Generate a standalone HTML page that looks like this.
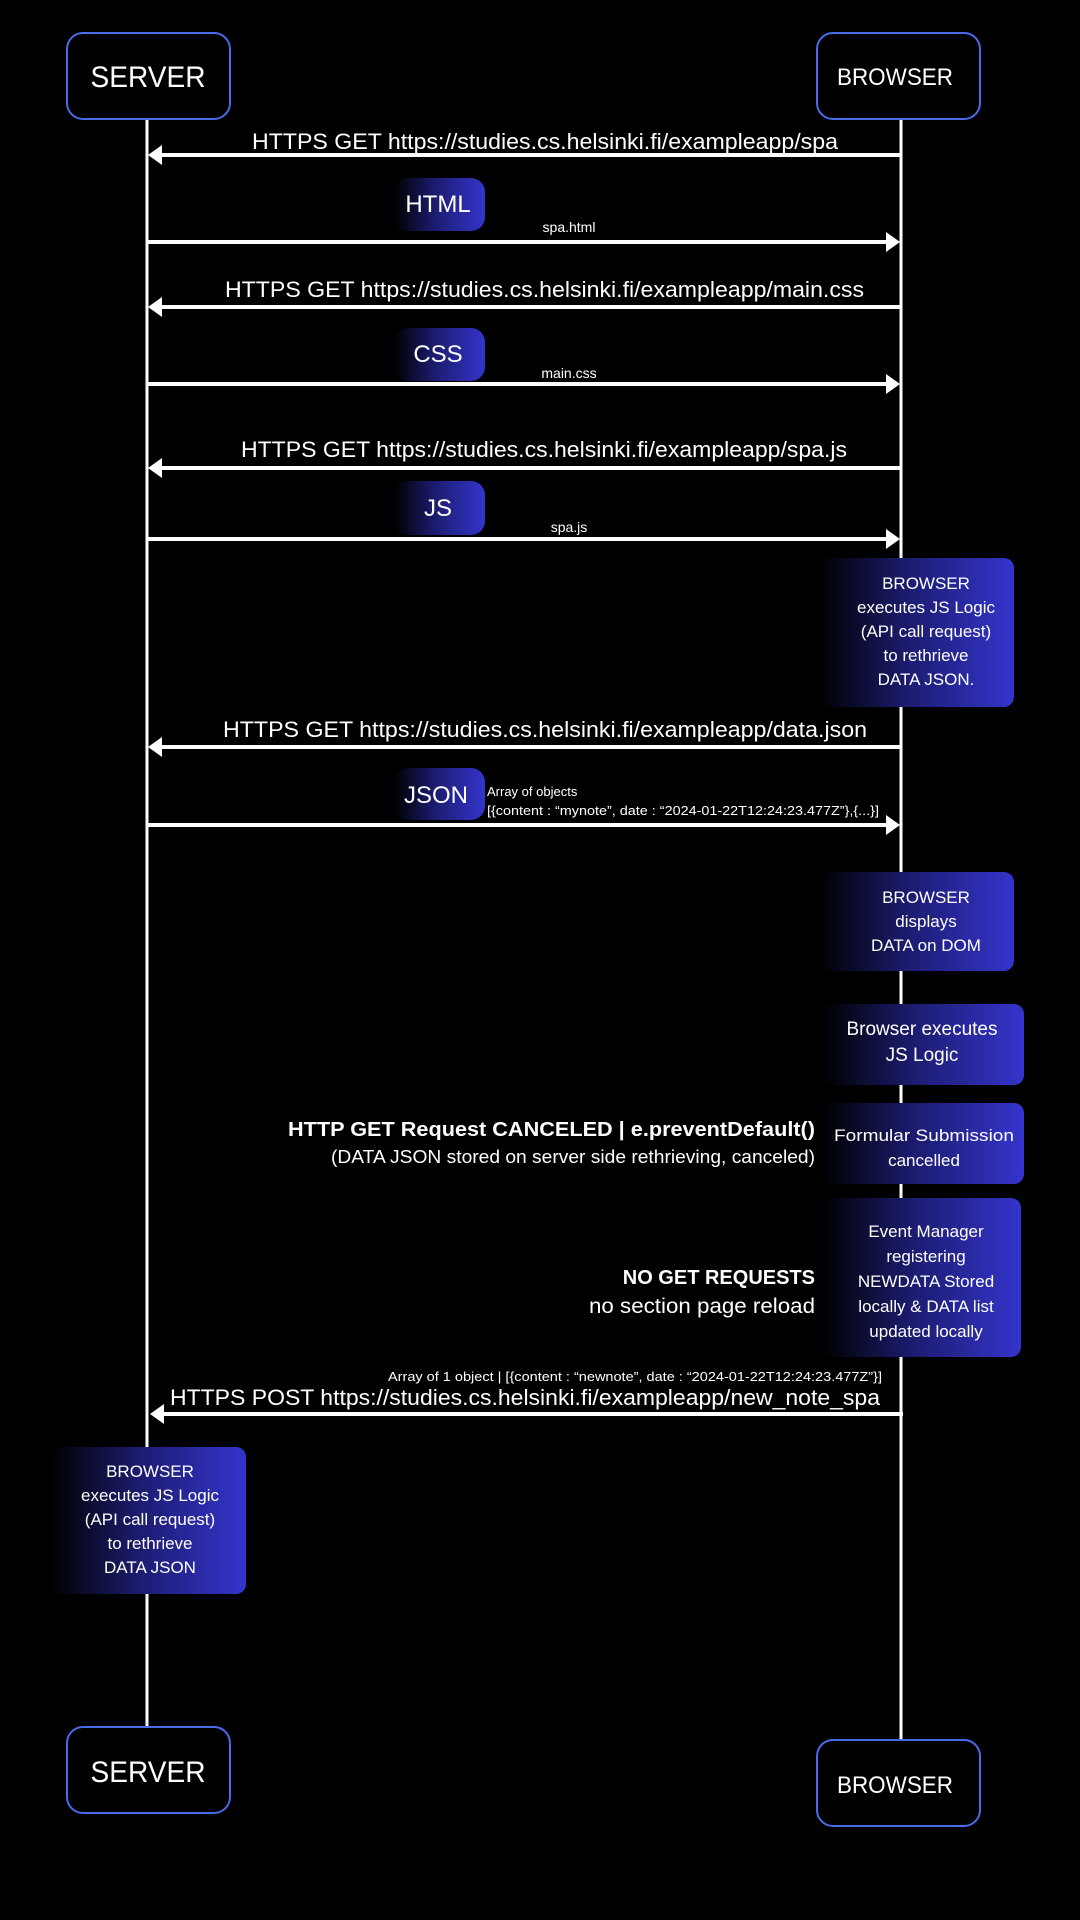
<!DOCTYPE html>
<html><head><meta charset="utf-8"><style>
html,body{margin:0;padding:0;background:#000;}
svg{display:block;}
text{font-family:"Liberation Sans",sans-serif;fill:#fff;}
</style></head><body>
<svg width="1080" height="1920" viewBox="0 0 1080 1920" xmlns="http://www.w3.org/2000/svg">
<defs>
<linearGradient id="g" x1="0" y1="0" x2="1" y2="0">
<stop offset="0" stop-color="#000"/><stop offset="0.45" stop-color="#1c1c70"/><stop offset="1" stop-color="#3434cc"/>
</linearGradient>
</defs>
<rect width="1080" height="1920" fill="#000"/>
<line x1="147" y1="119" x2="147" y2="1727" stroke="#fff" stroke-width="3"/>
<line x1="901" y1="119" x2="901" y2="1740" stroke="#fff" stroke-width="3"/>
<rect x="67" y="33" width="163" height="86" rx="16" fill="#000" stroke="#4a6ae8" stroke-width="2"/>
<text x="148" y="87" font-size="30" text-anchor="middle" textLength="115" lengthAdjust="spacingAndGlyphs">SERVER</text>
<rect x="817" y="33" width="163" height="86" rx="16" fill="#000" stroke="#4a6ae8" stroke-width="2"/>
<text x="895" y="85" font-size="24" text-anchor="middle" textLength="116" lengthAdjust="spacingAndGlyphs">BROWSER</text>
<rect x="67" y="1727" width="163" height="86" rx="16" fill="#000" stroke="#4a6ae8" stroke-width="2"/>
<text x="148" y="1782" font-size="30" text-anchor="middle" textLength="115" lengthAdjust="spacingAndGlyphs">SERVER</text>
<rect x="817" y="1740" width="163" height="86" rx="16" fill="#000" stroke="#4a6ae8" stroke-width="2"/>
<text x="895" y="1793" font-size="24" text-anchor="middle" textLength="116" lengthAdjust="spacingAndGlyphs">BROWSER</text>

<g stroke="#fff" stroke-width="4">
<line x1="901" y1="155" x2="160" y2="155"/>
<line x1="901" y1="307" x2="160" y2="307"/>
<line x1="901" y1="468" x2="160" y2="468"/>
<line x1="901" y1="747" x2="160" y2="747"/>
<line x1="903" y1="1414" x2="162" y2="1414"/>
<line x1="147" y1="242" x2="888" y2="242"/>
<line x1="147" y1="384" x2="888" y2="384"/>
<line x1="147" y1="539" x2="888" y2="539"/>
<line x1="147" y1="825" x2="888" y2="825"/>
</g>
<g fill="#fff">
<polygon points="148,155 162,145 162,165"/>
<polygon points="148,307 162,297 162,317"/>
<polygon points="148,468 162,458 162,478"/>
<polygon points="148,747 162,737 162,757"/>
<polygon points="150,1414 164,1404 164,1424"/>
<polygon points="900,242 886,232 886,252"/>
<polygon points="900,384 886,374 886,394"/>
<polygon points="900,539 886,529 886,549"/>
<polygon points="900,825 886,815 886,835"/>
</g>
<g font-size="22">
<text x="252" y="149" textLength="586" lengthAdjust="spacingAndGlyphs">HTTPS GET https://studies.cs.helsinki.fi/exampleapp/spa</text>
<text x="225" y="297" textLength="639" lengthAdjust="spacingAndGlyphs">HTTPS GET https://studies.cs.helsinki.fi/exampleapp/main.css</text>
<text x="241" y="457" textLength="606" lengthAdjust="spacingAndGlyphs">HTTPS GET https://studies.cs.helsinki.fi/exampleapp/spa.js</text>
<text x="223" y="737" textLength="644" lengthAdjust="spacingAndGlyphs">HTTPS GET https://studies.cs.helsinki.fi/exampleapp/data.json</text>
<text x="170" y="1405" textLength="710" lengthAdjust="spacingAndGlyphs">HTTPS POST https://studies.cs.helsinki.fi/exampleapp/new_note_spa</text>
</g>
<g font-size="14" text-anchor="middle">
<text x="569" y="232">spa.html</text>
<text x="569" y="378">main.css</text>
<text x="569" y="532">spa.js</text>
</g>
<text x="487" y="796" font-size="13">Array of objects</text>
<text x="487" y="815" font-size="13" textLength="392" lengthAdjust="spacingAndGlyphs">[{content : “mynote”, date : “2024-01-22T12:24:23.477Z”},{...}]</text>
<text x="388" y="1381" font-size="13" textLength="494" lengthAdjust="spacingAndGlyphs">Array of 1 object | [{content : “newnote”, date : “2024-01-22T12:24:23.477Z”}]</text>

<g fill="url(#g)">
<rect x="394" y="178" width="91" height="53" rx="14"/>
<rect x="394" y="328" width="91" height="53" rx="14"/>
<rect x="394" y="481" width="91" height="54" rx="14"/>
<rect x="394" y="768" width="91" height="52" rx="14"/>
</g>
<g font-size="24" text-anchor="middle">
<text x="438" y="212">HTML</text>
<text x="438" y="362">CSS</text>
<text x="438" y="516">JS</text>
<text x="436" y="803">JSON</text>
</g>

<g fill="url(#g)">
<rect x="820" y="558" width="194" height="149" rx="10"/>
<rect x="820" y="872" width="194" height="99" rx="10"/>
<rect x="823" y="1004" width="201" height="81" rx="10"/>
<rect x="823" y="1103" width="201" height="81" rx="10"/>
<rect x="823" y="1198" width="198" height="159" rx="10"/>
<rect x="51" y="1447" width="195" height="147" rx="10"/>
</g>
<g font-size="17" text-anchor="middle">
<text x="926" y="589">BROWSER</text>
<text x="926" y="613">executes JS Logic</text>
<text x="926" y="637">(API call request)</text>
<text x="926" y="661">to rethrieve</text>
<text x="926" y="685">DATA JSON.</text>
<text x="926" y="903">BROWSER</text>
<text x="926" y="927">displays</text>
<text x="926" y="951">DATA on DOM</text>
<text x="922" y="1035" font-size="19">Browser executes</text>
<text x="922" y="1061" font-size="19">JS Logic</text>
<text x="924" y="1141" textLength="180" lengthAdjust="spacingAndGlyphs">Formular Submission</text>
<text x="924" y="1166">cancelled</text>
<text x="926" y="1237">Event Manager</text>
<text x="926" y="1262">registering</text>
<text x="926" y="1287">NEWDATA Stored</text>
<text x="926" y="1312">locally &amp; DATA list</text>
<text x="926" y="1337">updated locally</text>
<text x="150" y="1477">BROWSER</text>
<text x="150" y="1501">executes JS Logic</text>
<text x="150" y="1525">(API call request)</text>
<text x="150" y="1549">to rethrieve</text>
<text x="150" y="1573">DATA JSON</text>
</g>

<text x="288" y="1136" font-size="20" font-weight="bold" textLength="527" lengthAdjust="spacingAndGlyphs">HTTP GET Request CANCELED | e.preventDefault()</text>
<text x="331" y="1163" font-size="18" textLength="484" lengthAdjust="spacingAndGlyphs">(DATA JSON stored on server side rethrieving, canceled)</text>
<text x="815" y="1284" font-size="20" font-weight="bold" text-anchor="end">NO GET REQUESTS</text>
<text x="589" y="1313" font-size="21" textLength="226" lengthAdjust="spacingAndGlyphs">no section page reload</text>
</svg>
</body></html>
